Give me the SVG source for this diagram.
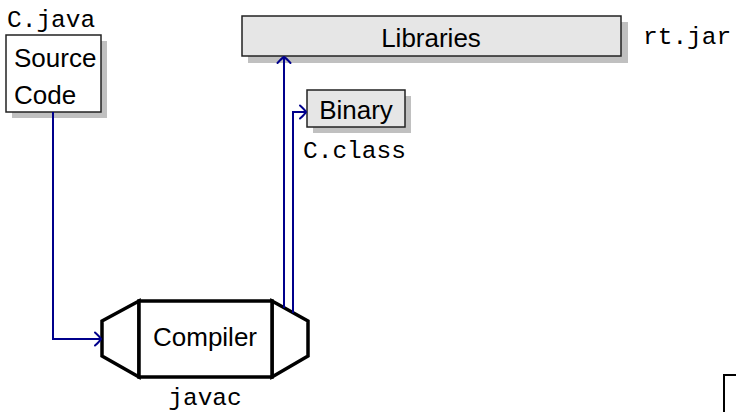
<svg xmlns="http://www.w3.org/2000/svg" width="736" height="412" viewBox="0 0 736 412">
  <style>
    .sans { font-family: "Liberation Sans", Arial, sans-serif; font-size: 26px; fill: #000; }
    .mono { font-family: "Liberation Mono", "Courier New", monospace; font-size: 24.5px; fill: #000; }
    .shadow { fill: #c0c0c0; stroke: none; }
    .box { stroke: #222; stroke-width: 1.5; }
    .plain { fill: #fff; }
    .grey { fill: #e6e6e6; }
    .machine { fill: #fff; stroke: #000; stroke-width: 3.5; stroke-linejoin: miter; }
    .wire { fill: none; stroke: #00008c; stroke-width: 2; }
  </style>
  <defs>
    <marker id="tip" markerUnits="userSpaceOnUse" markerWidth="16" markerHeight="16" refX="0" refY="0" viewBox="-8 -8 10 16" orient="auto" overflow="visible">
      <path d="M -6,-6.5 Q -1,-2 0,0 Q -1,2 -6,6.5" fill="none" stroke="#00008c" stroke-width="2" stroke-linecap="round"/>
    </marker>
  </defs>

  <rect width="736" height="412" fill="#fff"/>

  <!-- source file -->
  <g id="source">
    <rect class="shadow" x="12" y="41" width="95" height="77"/>
    <rect class="box plain" x="6" y="35" width="95" height="77"/>
    <text class="sans" x="14" y="67">Source</text>
    <text class="sans" x="14" y="104">Code</text>
    <text class="mono" x="7" y="27">C.java</text>
  </g>

  <!-- runtime libraries -->
  <g id="libraries">
    <rect class="shadow" x="248" y="22" width="380" height="41"/>
    <rect class="box grey" x="242" y="16" width="379" height="40"/>
    <text class="sans" x="431" y="47" text-anchor="middle">Libraries</text>
    <text class="mono" x="643" y="44">rt.jar</text>
  </g>

  <!-- compiled output -->
  <g id="binary">
    <rect class="shadow" x="313" y="96" width="98" height="37"/>
    <rect class="box grey" x="307" y="90" width="98" height="37"/>
    <text class="sans" x="356" y="119" text-anchor="middle">Binary</text>
    <text class="mono" x="303" y="158">C.class</text>
  </g>

  <!-- compiler -->
  <g id="compiler">
    <polygon class="machine" points="139,301 102,321 102,356 139,377"/>
    <polygon class="machine" points="272,301 308,321 308,356 272,377"/>
    <rect class="machine" x="139" y="301" width="133" height="76"/>
    <text class="sans" x="205" y="346" text-anchor="middle" font-size="23.5">Compiler</text>
    <text class="mono" x="205" y="405" text-anchor="middle">javac</text>
  </g>

  <!-- frame corner at lower right -->
  <g id="corner">
    <path d="M 724,412 V 375 H 736" fill="none" stroke="#000" stroke-width="2"/>
  </g>

  <!-- connectors -->
  <g id="connectors">
    <path class="wire" d="M 53,112 V 339 H 101" marker-end="url(#tip)"/>
    <path class="wire" d="M 284,308 V 57" marker-end="url(#tip)"/>
    <path class="wire" d="M 293,313 V 112 H 306" marker-end="url(#tip)"/>
  </g>
</svg>
